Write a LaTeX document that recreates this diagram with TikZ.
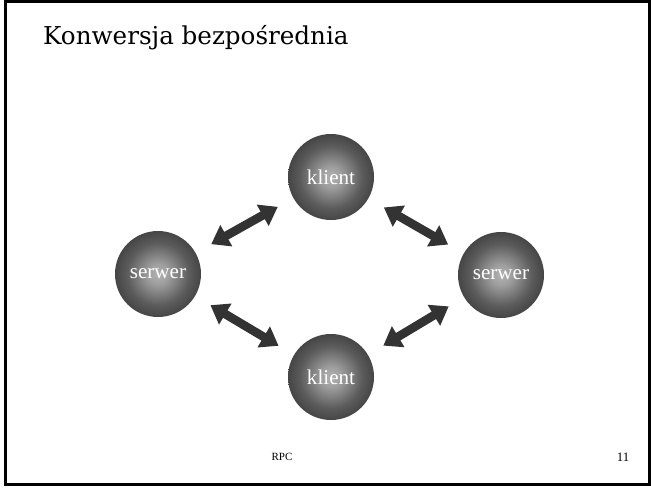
\documentclass[tikz,border=0pt]{standalone}
\usepackage{fontspec}
\setmainfont{Liberation Serif}
\newfontfamily\titlefont{DejaVu Serif}
\usetikzlibrary{arrows.meta}
\usetikzlibrary{positioning}
\pgfdeclareradialshading{ballshade}{\pgfpoint{0bp}{0bp}}{color(0bp)=(black!30); color(6bp)=(black!38); color(18bp)=(black!64); color(30bp)=(black!79); color(50bp)=(black!86)}

\begin{document}
\begin{tikzpicture}[x=0.3mm, y=-0.3mm,
    sphere/.style={circle, shading=ballshade, minimum size=25.8mm, inner sep=0pt,
      outer sep=0pt, text=white, font=\fontsize{18}{20}\selectfont},
    link/.style={draw=black!80, line width=2.6mm,
      {Triangle[length=5.2mm,width=7mm]}-{Triangle[length=5.2mm,width=7mm]},
      shorten <=5.4mm, shorten >=5.4mm}]
  \useasboundingbox (0,0) rectangle (651,488);
  \draw[line width=0.9mm] (5.5,1.5) rectangle (649.5,484.5);

  \node[anchor=base west, inner sep=0pt, font=\titlefont\fontsize{21}{24}\selectfont] (title) at (43,44) {Konwersja bezpośrednia};

  \node[sphere] (k1) at (331,177) {klient};
  \node[sphere] (k2) at (331,377) {klient};
  \node[sphere] (s1) at (158,274) {serwer};
  \node[sphere] (s2) at (501,275) {serwer};

  \draw[link] (s1) -- (k1);
  \draw[link] (k1) -- (s2);
  \draw[link] (s1) -- (k2);
  \draw[link] (k2) -- (s2);

  \node[font=\fontsize{9.4}{11}\selectfont] (rpc) at (282,457) {RPC};
  \node[font=\fontsize{11}{13}\selectfont] (page) at (623,457) {11};
\end{tikzpicture}
\end{document}
